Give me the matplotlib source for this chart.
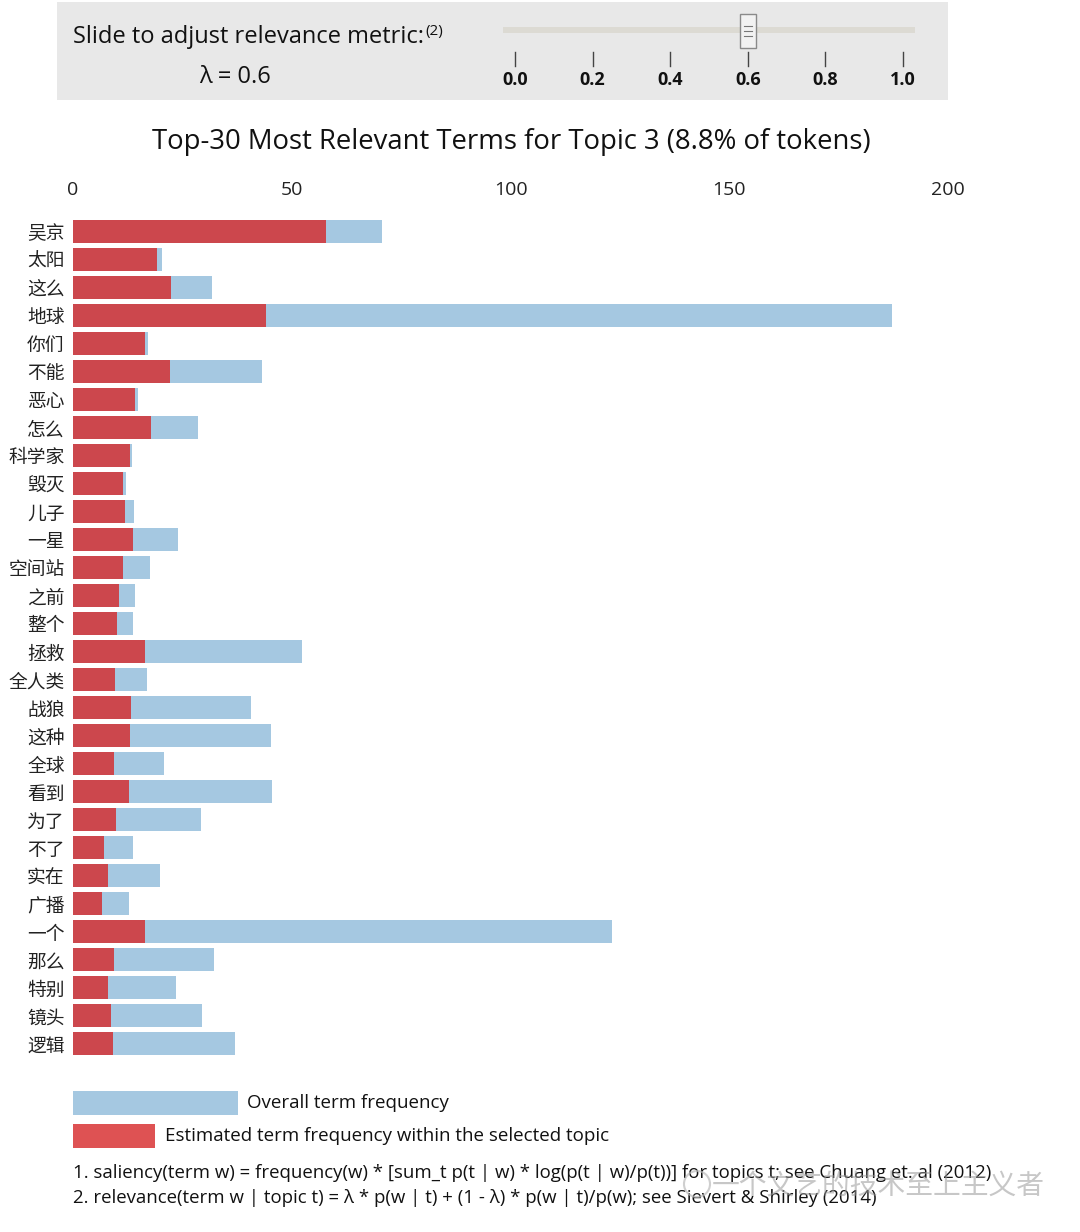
import matplotlib
matplotlib.use("Agg")
import matplotlib.pyplot as plt
from matplotlib.patches import Rectangle, Circle

plt.rcParams['font.family'] = ['Open Sans', 'Noto Sans CJK SC', 'DejaVu Sans']

# data
terms = ['吴京', '太阳', '这么', '地球', '你们', '不能', '恶心', '怎么', '科学家', '毁灭',
         '儿子', '一星', '空间站', '之前', '整个', '拯救', '全人类', '战狼', '这种', '全球',
         '看到', '为了', '不了', '实在', '广播', '一个', '那么', '特别', '镜头', '逻辑']
overall_freq = [70.6, 20.3, 31.8, 187.2, 17.1, 43.2, 14.9, 28.6, 13.5, 12.1,
                13.9, 24.0, 17.6, 14.2, 13.7, 52.3, 16.9, 40.7, 45.3, 20.8,
                45.5, 29.3, 13.7, 19.9, 12.8, 123.2, 32.2, 23.5, 29.5, 37.0]
topic_freq = [57.8, 19.2, 22.4, 44.1, 16.5, 22.2, 14.2, 17.8, 13.0, 11.4,
              11.9, 13.7, 11.4, 10.5, 10.1, 16.5, 9.6, 13.3, 13.0, 9.4,
              12.8, 9.8, 7.1, 8.0, 6.6, 16.5, 9.4, 8.0, 8.7, 9.1]
x_ticks = [0, 50, 100, 150, 200]
slider_ticks = [0.0, 0.2, 0.4, 0.6, 0.8, 1.0]
lam = 0.6

BLUE = '#1f77b4'
RED = '#d62728'

W, H = 1080, 1232
fig = plt.figure(figsize=(W / 100, H / 100), dpi=100)

# main bar chart
ax = fig.add_axes([73 / W, 1 - 1058 / H, 875 / W, (1058 - 217) / H])
y = list(range(len(terms)))
ax.barh(y, overall_freq, height=0.82, color=BLUE, alpha=0.4, linewidth=0)
ax.barh(y, topic_freq, height=0.82, color=RED, alpha=0.8, linewidth=0)
ax.set_xlim(0, 200)
ax.set_ylim(len(terms) - 0.5, -0.5)
ax.set_yticks(y)
ax.set_yticklabels(terms, fontsize=13.5, family=['Noto Sans CJK SC', 'DejaVu Sans'], color='#222222')
ax.xaxis.tick_top()
ax.set_xticks(x_ticks)
ax.set_xticklabels([str(t) for t in x_ticks], fontsize=14, color='#222222')
ax.tick_params(axis='x', length=0, pad=13)
ax.tick_params(axis='y', length=0, pad=6)
for s in ax.spines.values():
    s.set_visible(False)

# overlay in pixel coordinates for panel, title, legend and notes
ov = fig.add_axes([0, 0, 1, 1], zorder=-1)
ov.set_xlim(0, W)
ov.set_ylim(H, 0)
ov.axis('off')

ov.add_patch(Rectangle((57, 2), 891, 98, facecolor='#e8e8e8', edgecolor='none'))
ov.text(73, 37, 'Slide to adjust relevance metric:', fontsize=17, va='center', ha='left', color='#111111')
ov.text(425, 31, '(2)', fontsize=11, va='center', ha='left', color='#111111')
ov.text(235, 77, 'λ = %.1f' % lam, fontsize=17, va='center', ha='center', color='#111111')

# slider track, handle and ticks
x0, x1 = 515, 903
ov.add_patch(Rectangle((503, 27), 412, 6, facecolor='#dcdad3', edgecolor='none'))
hx = x0 + (x1 - x0) * lam
ov.add_patch(Rectangle((hx - 8, 14), 16, 34, facecolor='#f2f2f2', edgecolor='#8a8a8a', linewidth=1))
for dy in (-5, 0, 5):
    ov.plot([hx - 4, hx + 4], [31 + dy, 31 + dy], color='#777777', linewidth=0.8)
for t in slider_ticks:
    tx = x0 + (x1 - x0) * t
    ov.plot([tx, tx], [52, 66], color='#444444', linewidth=1)
    ov.text(tx, 80, '%.1f' % t, fontsize=13, fontweight='bold', ha='center', va='center', color='#111111')

# title
ov.text(511, 142, 'Top-30 Most Relevant Terms for Topic 3 (8.8% of tokens)', fontsize=19.8,
        ha='center', va='center', color='#111111')

# legend
ov.add_patch(Rectangle((73, 1091), 165, 24, facecolor=BLUE, alpha=0.4, edgecolor='none'))
ov.text(247, 1103, 'Overall term frequency', fontsize=13.5, va='center', ha='left', color='#111111')
ov.add_patch(Rectangle((73, 1124), 82, 24, facecolor=RED, alpha=0.8, edgecolor='none'))
ov.text(165, 1136, 'Estimated term frequency within the selected topic', fontsize=13.5,
        va='center', ha='left', color='#111111')

# footnotes
ov.text(73, 1173, '1. saliency(term w) = frequency(w) * [sum_t p(t | w) * log(p(t | w)/p(t))] for topics t; see Chuang et. al (2012)',
        fontsize=13.4, va='center', ha='left', color='#111111')
ov.text(73, 1198, '2. relevance(term w | topic t) = λ * p(w | t) + (1 - λ) * p(w | t)/p(w); see Sievert & Shirley (2014)',
        fontsize=13.4, va='center', ha='left', color='#111111')

# watermark
ov.add_patch(Circle((697, 1184), 13, facecolor='none', edgecolor='#bbbbbb', alpha=0.7, linewidth=1.5, zorder=5))
ov.text(1045, 1186, '一个文艺的技术至上主义者', fontsize=20, ha='right', va='center', color='#999999',
        alpha=0.55, family=['Noto Sans CJK SC', 'DejaVu Sans'], zorder=5)

fig.savefig('out.png', dpi=100)
